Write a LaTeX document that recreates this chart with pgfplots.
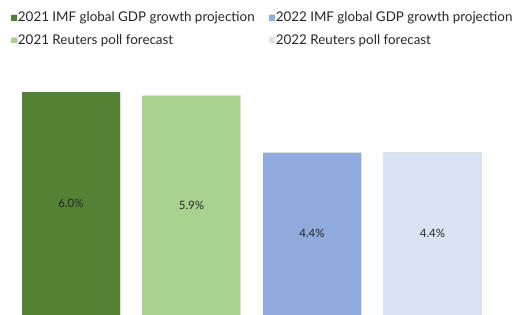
\documentclass[border=0pt]{standalone}
\usepackage{pgfplots}
\pgfplotsset{compat=1.18}
\usetikzlibrary{shadows}
\usepackage{fontspec}
\setmainfont{Lato}
\definecolor{c1}{HTML}{548235}
\definecolor{c2}{HTML}{A9D18E}
\definecolor{c3}{HTML}{8FAADC}
\definecolor{c4}{HTML}{DAE3F3}
\begin{document}
\begin{tikzpicture}
\useasboundingbox (0,0) rectangle (513pt,315pt);
\begin{axis}[
  at={(0pt,0pt)}, anchor=south west,
  scale only axis, width=513pt, height=240pt,
  x=120.5pt, y=38pt,
  xmin=-0.589, xmax=3.668, ymin=0.13, ymax=6.45,
  hide axis,
  ybar, bar width=98pt, bar shift=0pt,
  clip=true,
  /pgf/number format/assume math mode=true,
  nodes near coords={\pgfmathprintnumber[fixed,fixed zerofill,precision=1,assume math mode=true]{\pgfplotspointmeta}\%},
  every node near coord/.append style={font=\fontsize{11.5}{13}\selectfont, text=black!85, anchor=center},
  legend columns=2,
  legend cell align=left,
  legend image code/.code={\fill[#1] (0pt,-2.9pt) rectangle (5.8pt,2.9pt);},
  legend style={at={(axis description cs:0.0214,1.2708)}, anchor=north west, draw=none, fill=none,
    font=\fontsize{13.4}{15}\selectfont, text=black!85, row sep=7.5pt, inner xsep=0pt, inner ysep=0pt,
    nodes={inner xsep=1pt}},
]
\addplot[fill=c1, draw=none, drop shadow={shadow xshift=0.6pt, shadow yshift=0.3pt, opacity=0.25}, every node near coord/.append style={yshift=-111.5pt}] coordinates {(0,6.0)};
\addlegendentry{\makebox[250pt][l]{2021 IMF global GDP growth projection}}
\addplot[fill=c3, draw=none, drop shadow={shadow xshift=0.6pt, shadow yshift=0.3pt, opacity=0.25}, every node near coord/.append style={yshift=-81pt}] coordinates {(2,4.4)};
\addlegendentry{2022 IMF global GDP growth projection}
\addplot[fill=c2, draw=none, drop shadow={shadow xshift=0.6pt, shadow yshift=0.3pt, opacity=0.25}, every node near coord/.append style={yshift=-109.6pt}] coordinates {(1,5.9)};
\addlegendentry{\makebox[250pt][l]{2021 Reuters poll forecast}}
\addplot[fill=c4, draw=none, drop shadow={shadow xshift=0.6pt, shadow yshift=0.3pt, opacity=0.25}, every node near coord/.append style={yshift=-81pt}] coordinates {(3,4.4)};
\addlegendentry{2022 Reuters poll forecast}
\end{axis}
\end{tikzpicture}
\end{document}
